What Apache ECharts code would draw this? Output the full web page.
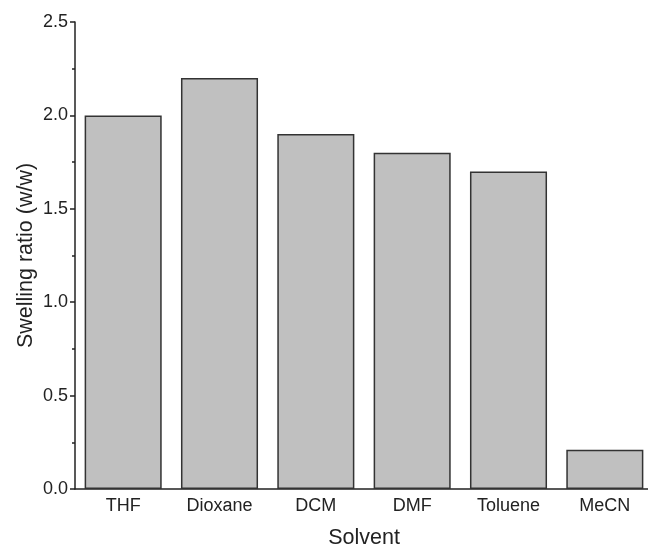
<!DOCTYPE html>
<html>
<head>
<meta charset="utf-8">
<script src="https://cdn.jsdelivr.net/npm/echarts@6/dist/echarts.min.js"></script>
<style>
  html, body { margin: 0; padding: 0; background: #fff; }
  #chart { width: 648px; height: 546px; }
</style>
</head>
<body>
<div id="chart"></div>
<script>
const solvents = ['THF', 'Dioxane', 'DCM', 'DMF', 'Toluene', 'MeCN']
const swelling = [2.0, 2.2, 1.9, 1.8, 1.7, 0.21]

const chart = echarts.init(document.getElementById('chart'))
chart.setOption({
  animation: false,
  textStyle: { fontFamily: 'Liberation Sans, Arial, sans-serif' },
  grid: { left: 75, top: 22, width: 578, height: 467, outerBoundsMode: 'none', containLabel: false },
  xAxis: {
    type: 'category',
    data: solvents,
    name: 'Solvent',
    nameLocation: 'middle',
    nameGap: 38,
    nameMoveOverlap: false,
    nameTextStyle: { fontSize: 21.5, color: '#222' },
    axisLine: { lineStyle: { color: '#222', width: 1.5 } },
    axisTick: { show: false },
    axisLabel: { fontSize: 18, color: '#222', margin: 8 }
  },
  yAxis: {
    type: 'value',
    min: 0,
    max: 2.5,
    interval: 0.5,
    name: 'Swelling ratio (w/w)',
    nameLocation: 'middle',
    nameGap: 38,
    nameMoveOverlap: false,
    nameTextStyle: { fontSize: 21.5, color: '#222' },
    splitLine: { show: false },
    axisLine: { show: true, lineStyle: { color: '#222', width: 1.5 } },
    axisTick: { show: true, inside: false, length: 5, lineStyle: { color: '#222', width: 1.5 } },
    minorTick: { show: true, splitNumber: 2, length: 3, lineStyle: { color: '#222', width: 1.5 } },
    axisLabel: {
      fontSize: 18, color: '#222', margin: 7,
      formatter: v => v.toFixed(1)
    }
  },
  series: [{
    type: 'bar',
    data: swelling,
    barCategoryGap: '20%',
    itemStyle: { color: '#c0c0c0', borderColor: '#333', borderWidth: 1.5 }
  }]
})
</script>
</body>
</html>
